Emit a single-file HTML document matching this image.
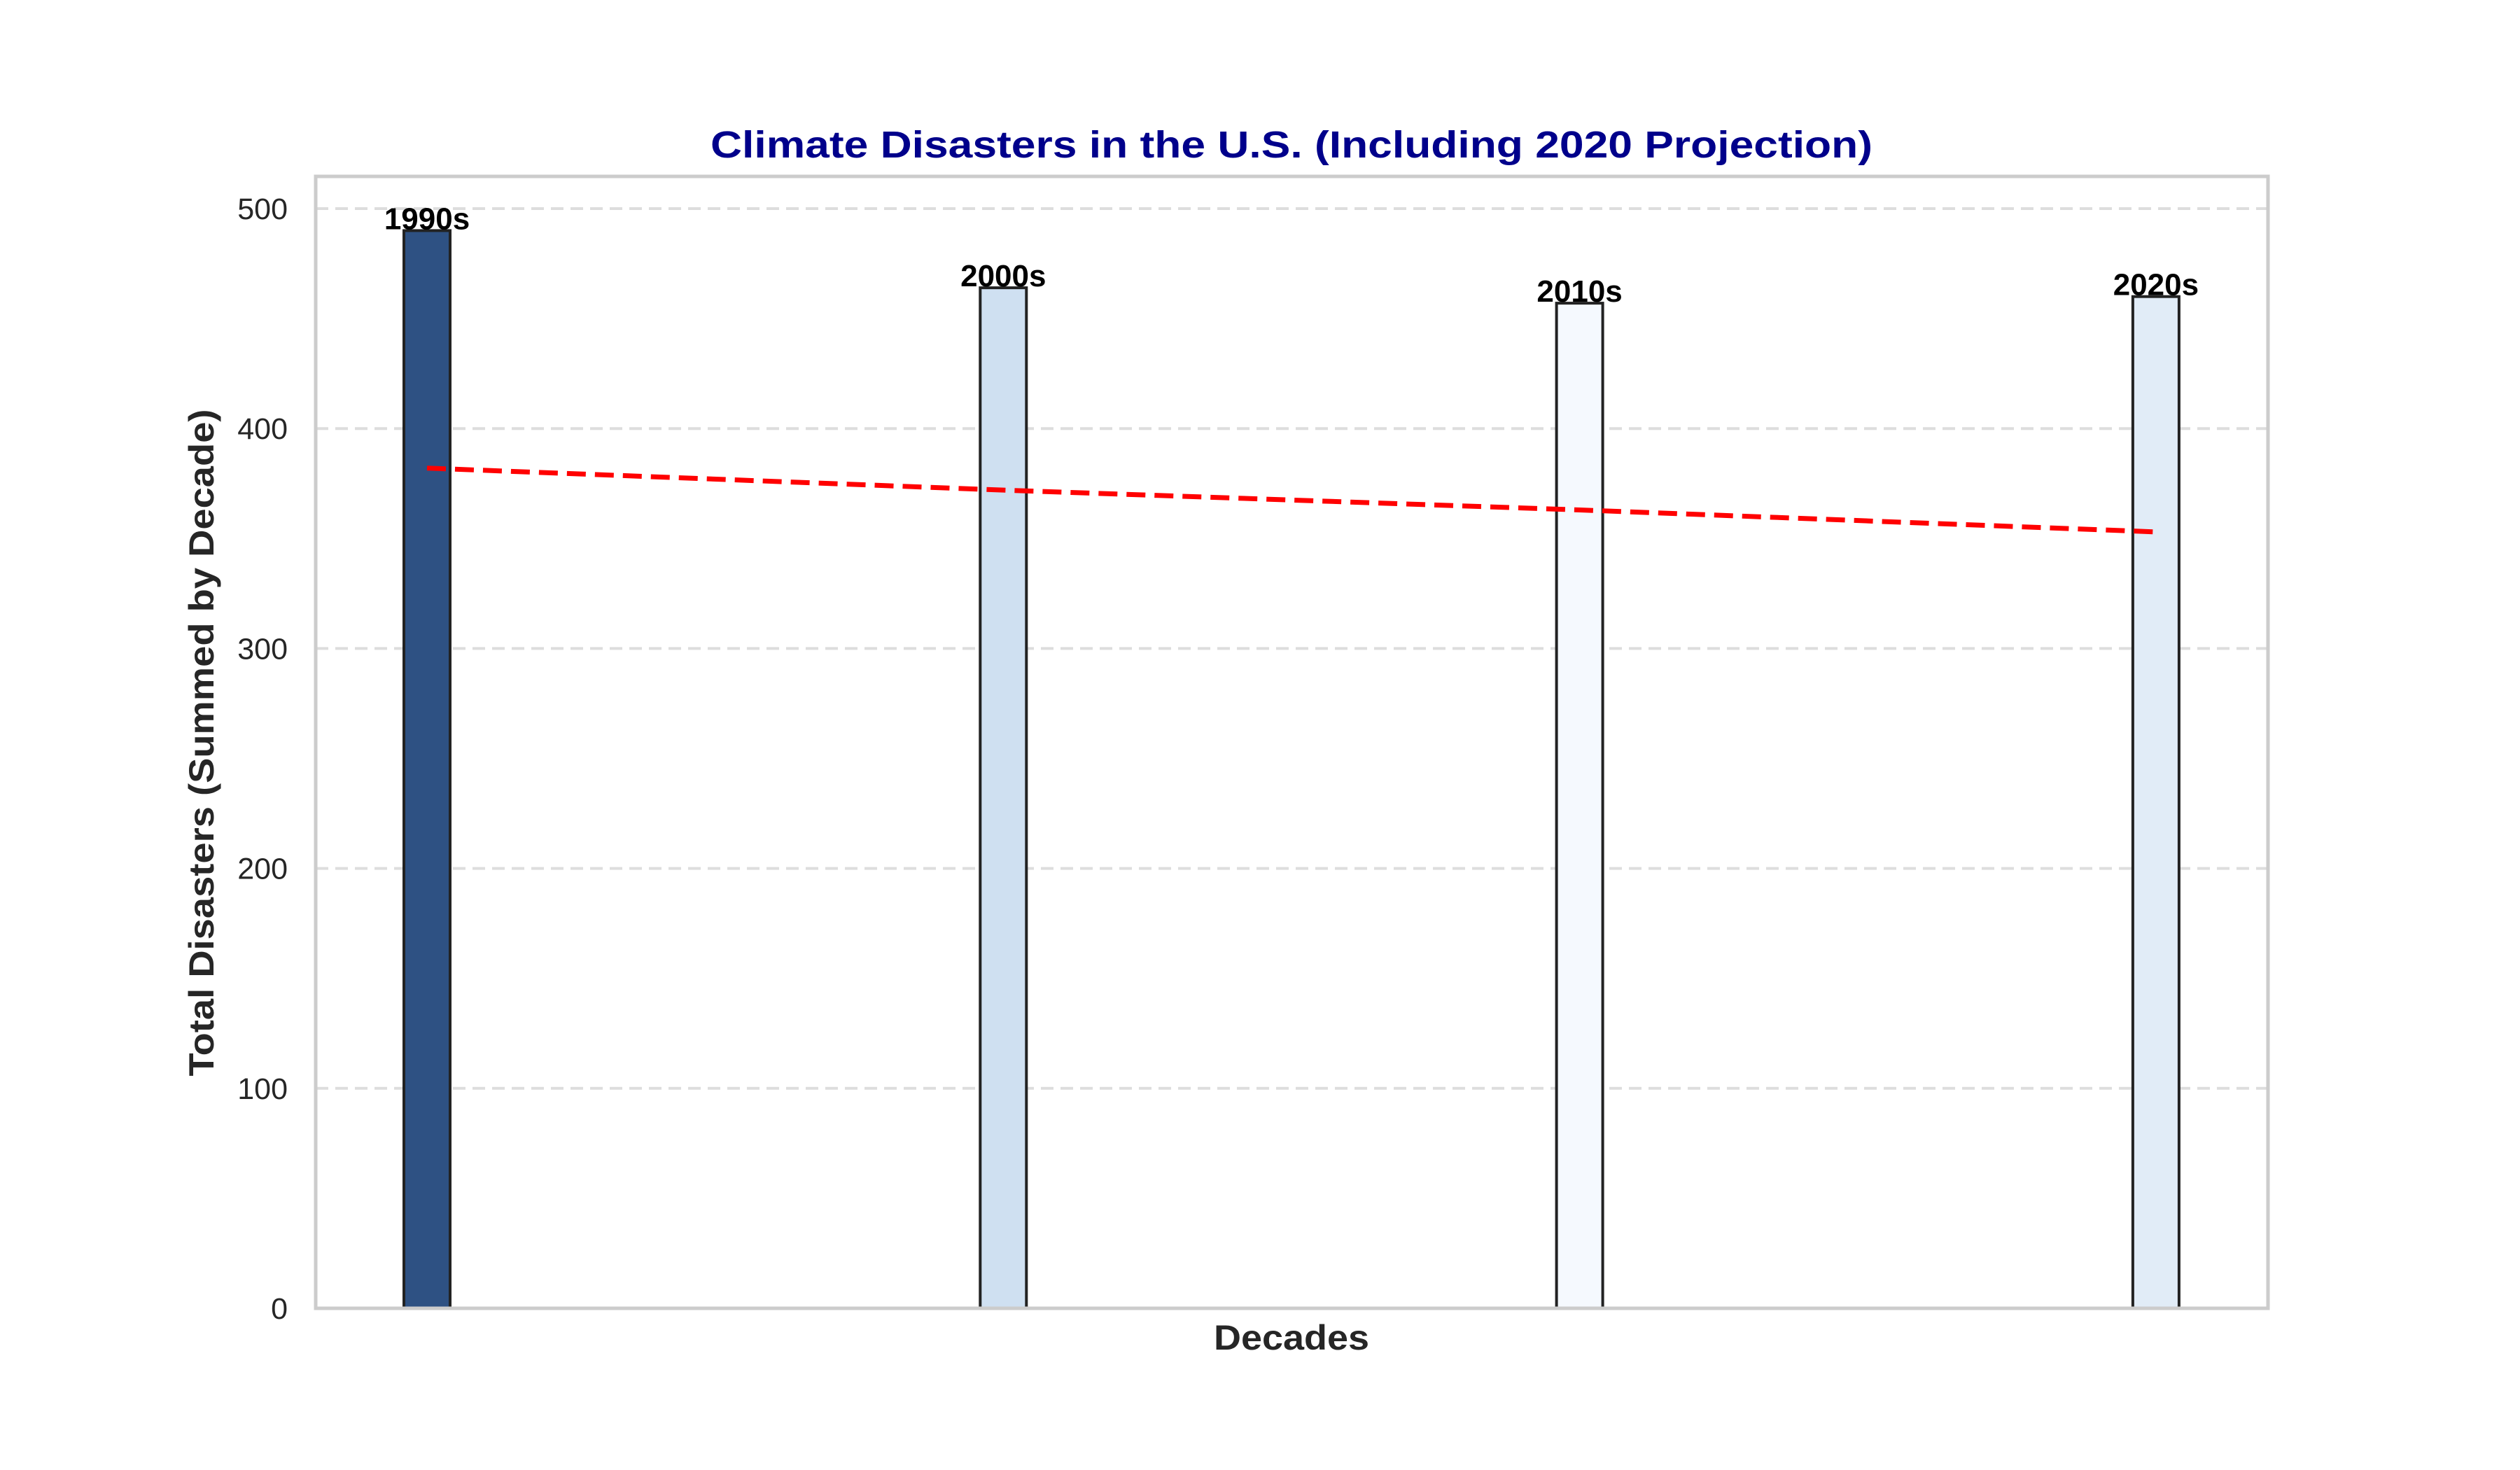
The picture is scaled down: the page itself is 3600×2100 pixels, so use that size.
<!DOCTYPE html>
<html><head><meta charset="utf-8"><style>
html,body{margin:0;padding:0;background:#fff;width:3600px;height:2100px;overflow:hidden}
svg{display:block}
text{font-family:"Liberation Sans",Arial,sans-serif}
</style></head><body>
<svg id="chart" width="3600" height="2100" viewBox="0 0 3600 2100" xmlns="http://www.w3.org/2000/svg">
<rect width="3600" height="2100" fill="#fff"/>
<g id="grid"></g>
<g id="bars"></g>
<g id="trend"></g>
<rect x="451" y="252" width="2789" height="1617" fill="none" stroke="#cccccc" stroke-width="5"/>
<g id="yticks"></g>
<text x="1845" y="225" text-anchor="middle" font-size="54" font-weight="bold" fill="#00008b" textLength="1660" lengthAdjust="spacingAndGlyphs">Climate Disasters in the U.S. (Including 2020 Projection)</text>
<text x="1845" y="1928" text-anchor="middle" font-size="50" font-weight="bold" fill="#262626" textLength="222" lengthAdjust="spacingAndGlyphs">Decades</text>
<text transform="translate(305,1061) rotate(-90)" text-anchor="middle" font-size="50" font-weight="bold" fill="#262626" textLength="953" lengthAdjust="spacingAndGlyphs">Total Disasters (Summed by Decade)</text>
</svg>
<script>
const categories = ["1990s","2000s","2010s","2020s"];
const totals = [490,464,457,460];
const trendValues = [382,372,363,353];
const yTickValues = [0,100,200,300,400,500];
const barColors = ["#2e5183","#cfe0f1","#f5f9fe","#e1ecf7"];

const NS="http://www.w3.org/2000/svg";
const X0=451,X1=3240,Y0=1869,PXU=(1869-298)/500;
function yScale(v){return Y0-v*PXU;}
function xScale(i){return 610+i*823.3;}
const BW=66;
function mk(tag,attrs,parent){const e=document.createElementNS(NS,tag);for(const k in attrs)e.setAttribute(k,attrs[k]);parent.appendChild(e);return e;}

const grid=document.getElementById('grid'),yt=document.getElementById('yticks');
yTickValues.forEach(v=>{
  const y=yScale(v);
  if(v>0){const l=mk('line',{x1:X0,x2:X1,y1:y,y2:y,stroke:'#dddddd','stroke-width':4,'stroke-dasharray':'18,10'},grid);
  
  }
  const t=mk('text',{x:411,y:y+15,'text-anchor':'end','font-size':43,fill:'#262626'},yt);
  t.textContent=String(v);
  
  
});
const bars=document.getElementById('bars');
categories.forEach((c,i)=>{
  const cx=xScale(i),y=yScale(totals[i]);
  const r=mk('rect',{x:cx-BW/2,y:y,width:BW,height:Y0-y,fill:barColors[i],stroke:'#222222','stroke-width':4},bars);
  
  
  const t=mk('text',{x:cx,y:y-2,'text-anchor':'middle','font-size':44,'font-weight':'bold',fill:'#000'},bars);
  t.textContent=c;
  
  
});
const tr=document.getElementById('trend');
const pts=trendValues.map((v,i)=>xScale(i)+','+yScale(v)).join(' ');
const pl=mk('polyline',{points:pts,fill:'none',stroke:'#ff0000','stroke-width':7,'stroke-dasharray':'27,13'},tr);


</script>
</body></html>
